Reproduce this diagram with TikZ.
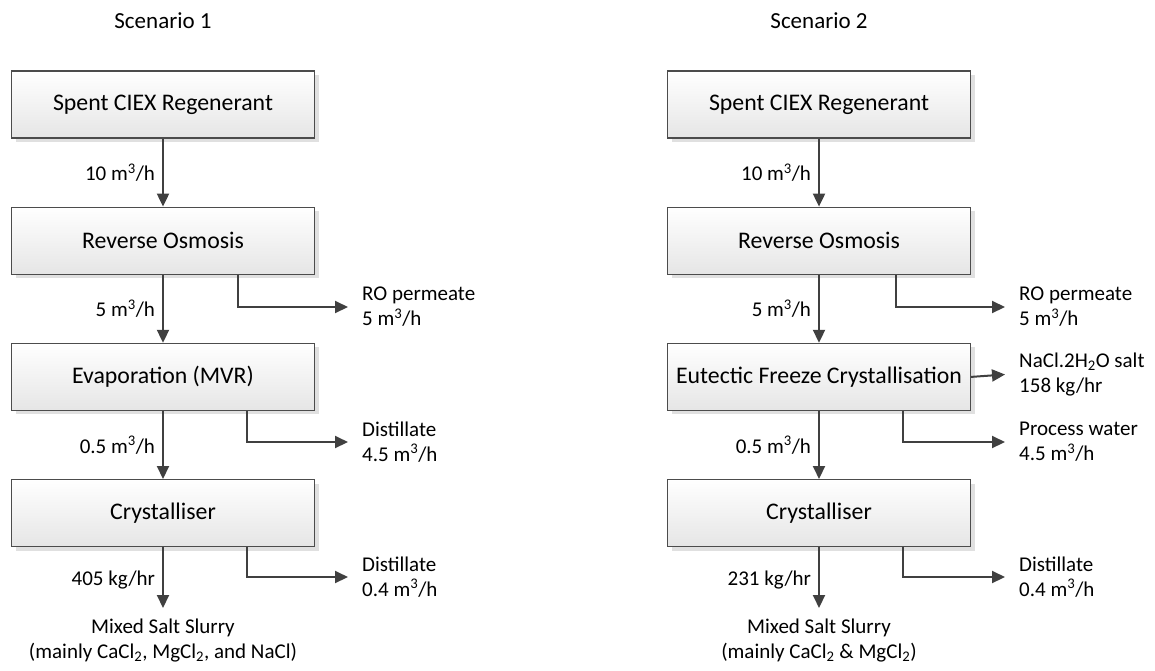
\documentclass[tikz,border=0pt]{standalone}
\usepackage{fontspec}
\setmainfont{Carlito}
\usetikzlibrary{positioning,arrows.meta,shadows}

\begin{document}
\begin{tikzpicture}[
    x=1pt, y=-1pt,
    node distance=68pt,
    box/.style={rectangle, draw=black!70, line width=1.2pt, top color=white, bottom color=black!10,
        minimum width=303pt, minimum height=67pt, font=\fontsize{23.8}{28}\selectfont,
        drop shadow={shadow xshift=4pt, shadow yshift=-4pt, fill=black!12, opacity=1}},
    arrow/.style={-{Triangle[length=13pt,width=12pt]}, color=black!75, line width=2pt},
    lbl/.style={font=\fontsize{21}{25}\selectfont, text=black, inner sep=7pt},
    outtext/.style={lbl, align=left, anchor=west, inner xsep=14pt},
    scentitle/.style={font=\fontsize{23}{28}\selectfont}
]
    \useasboundingbox (0,0) rectangle (1155,670);

    % Scenario 1
    \node[scentitle] (sc1) at (163,21) {Scenario 1};
    \node[box] (src1) at (163,104.5) {Spent CIEX Regenerant};
    \node[box, below=of src1] (ro1) {Reverse Osmosis};
    \node[box, below=of ro1] (evp1) {Evaporation (MVR)};
    \node[box, below=of evp1] (cry1) {Crystalliser};
    \node[outtext] (perm1) at (348,307) {RO permeate\\5 m\textsuperscript{3}/h};
    \node[outtext] (dist1) at (348,442) {Distillate\\4.5 m\textsuperscript{3}/h};
    \node[outtext] (dist1b) at (348,577) {Distillate\\0.4 m\textsuperscript{3}/h};
    \node[lbl, align=center, anchor=north] (slurry1) at (163,612)
        {Mixed Salt Slurry\\(mainly CaCl\textsubscript{2}, MgCl\textsubscript{2}, and NaCl)};

    \draw[arrow] (src1) -- node[lbl, left] {10 m\textsuperscript{3}/h} (ro1);
    \draw[arrow] (ro1) -- node[lbl, left] {5 m\textsuperscript{3}/h} (evp1);
    \draw[arrow] (evp1) -- node[lbl, left] {0.5 m\textsuperscript{3}/h} (cry1);
    \draw[arrow, shorten >=4pt] (cry1) -- node[lbl, left] {405 kg/hr} (slurry1);
    \draw[arrow] ([xshift=75pt]ro1.south) |- (perm1.west);
    \draw[arrow] ([xshift=84pt]evp1.south) |- (dist1.west);
    \draw[arrow] ([xshift=84pt]cry1.south) |- (dist1b.west);

    % Scenario 2
    \node[scentitle] (sc2) at (819,21) {Scenario 2};
    \node[box] (src2) at (819,104.5) {Spent CIEX Regenerant};
    \node[box, below=of src2] (ro2) {Reverse Osmosis};
    \node[box, below=of ro2] (efc2) {Eutectic Freeze Crystallisation};
    \node[box, below=of efc2] (cry2) {Crystalliser};
    \node[outtext] (perm2) at (1005,307) {RO permeate\\5 m\textsuperscript{3}/h};
    \node[outtext] (salt2) at (1005,374.5) {NaCl.2H\textsubscript{2}O salt\\158 kg/hr};
    \node[outtext] (water2) at (1005,442) {Process water\\4.5 m\textsuperscript{3}/h};
    \node[outtext] (dist2) at (1005,577) {Distillate\\0.4 m\textsuperscript{3}/h};
    \node[lbl, align=center, anchor=north] (slurry2) at (819,612)
        {Mixed Salt Slurry\\(mainly CaCl\textsubscript{2} \& MgCl\textsubscript{2})};

    \draw[arrow] (src2) -- node[lbl, left] {10 m\textsuperscript{3}/h} (ro2);
    \draw[arrow] (ro2) -- node[lbl, left] {5 m\textsuperscript{3}/h} (efc2);
    \draw[arrow] (efc2) -- node[lbl, left] {0.5 m\textsuperscript{3}/h} (cry2);
    \draw[arrow, shorten >=4pt] (cry2) -- node[lbl, left] {231 kg/hr} (slurry2);
    \draw[arrow] ([xshift=77pt]ro2.south) |- (perm2.west);
    \draw[arrow] (efc2.east) -- (salt2.west);
    \draw[arrow] ([xshift=84pt]efc2.south) |- (water2.west);
    \draw[arrow] ([xshift=84pt]cry2.south) |- (dist2.west);
\end{tikzpicture}
\end{document}
